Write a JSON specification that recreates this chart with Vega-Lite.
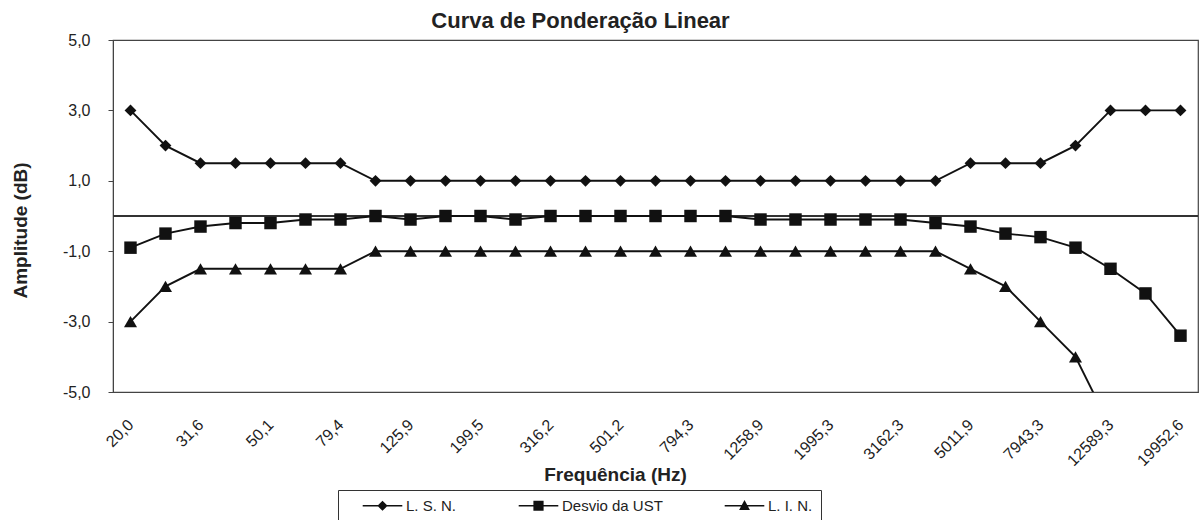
{
  "$schema": "https://vega.github.io/schema/vega-lite/v6.json",
  "width": 1085,
  "height": 352,
  "autosize": "none",
  "padding": {"left": 113, "top": 40, "right": 3, "bottom": 128},
  "background": "white",
  "config": {
    "font": "Liberation Sans",
    "view": {"stroke": "#444", "strokeWidth": 1.2},
    "axis": {"grid": false, "domainColor": "#444", "tickColor": "#444", "labelColor": "#222", "titleColor": "#222", "labelFont": "Liberation Sans", "titleFont": "Liberation Sans"}
  },
  "title": {"text": "Curva de Ponderação Linear", "fontSize": 22, "fontWeight": "bold", "font": "Liberation Sans", "color": "#222", "anchor": "middle", "frame": "group", "dx": -75, "offset": -1},
  "data": {"values": [
    {"f":"20,0","s":"L. S. N.","v":3},{"f":"25,1","s":"L. S. N.","v":2},{"f":"31,6","s":"L. S. N.","v":1.5},{"f":"39,8","s":"L. S. N.","v":1.5},{"f":"50,1","s":"L. S. N.","v":1.5},{"f":"63,1","s":"L. S. N.","v":1.5},{"f":"79,4","s":"L. S. N.","v":1.5},{"f":"100,0","s":"L. S. N.","v":1},{"f":"125,9","s":"L. S. N.","v":1},{"f":"158,5","s":"L. S. N.","v":1},{"f":"199,5","s":"L. S. N.","v":1},{"f":"251,2","s":"L. S. N.","v":1},{"f":"316,2","s":"L. S. N.","v":1},{"f":"398,1","s":"L. S. N.","v":1},{"f":"501,2","s":"L. S. N.","v":1},{"f":"631,0","s":"L. S. N.","v":1},{"f":"794,3","s":"L. S. N.","v":1},{"f":"1000,0","s":"L. S. N.","v":1},{"f":"1258,9","s":"L. S. N.","v":1},{"f":"1584,9","s":"L. S. N.","v":1},{"f":"1995,3","s":"L. S. N.","v":1},{"f":"2511,9","s":"L. S. N.","v":1},{"f":"3162,3","s":"L. S. N.","v":1},{"f":"3981,1","s":"L. S. N.","v":1},{"f":"5011,9","s":"L. S. N.","v":1.5},{"f":"6309,6","s":"L. S. N.","v":1.5},{"f":"7943,3","s":"L. S. N.","v":1.5},{"f":"10000,0","s":"L. S. N.","v":2},{"f":"12589,3","s":"L. S. N.","v":3},{"f":"15848,9","s":"L. S. N.","v":3},{"f":"19952,6","s":"L. S. N.","v":3},
    {"f":"20,0","s":"Desvio da UST","v":-0.9},{"f":"25,1","s":"Desvio da UST","v":-0.5},{"f":"31,6","s":"Desvio da UST","v":-0.3},{"f":"39,8","s":"Desvio da UST","v":-0.2},{"f":"50,1","s":"Desvio da UST","v":-0.2},{"f":"63,1","s":"Desvio da UST","v":-0.1},{"f":"79,4","s":"Desvio da UST","v":-0.1},{"f":"100,0","s":"Desvio da UST","v":0},{"f":"125,9","s":"Desvio da UST","v":-0.1},{"f":"158,5","s":"Desvio da UST","v":0},{"f":"199,5","s":"Desvio da UST","v":0},{"f":"251,2","s":"Desvio da UST","v":-0.1},{"f":"316,2","s":"Desvio da UST","v":0},{"f":"398,1","s":"Desvio da UST","v":0},{"f":"501,2","s":"Desvio da UST","v":0},{"f":"631,0","s":"Desvio da UST","v":0},{"f":"794,3","s":"Desvio da UST","v":0},{"f":"1000,0","s":"Desvio da UST","v":0},{"f":"1258,9","s":"Desvio da UST","v":-0.1},{"f":"1584,9","s":"Desvio da UST","v":-0.1},{"f":"1995,3","s":"Desvio da UST","v":-0.1},{"f":"2511,9","s":"Desvio da UST","v":-0.1},{"f":"3162,3","s":"Desvio da UST","v":-0.1},{"f":"3981,1","s":"Desvio da UST","v":-0.2},{"f":"5011,9","s":"Desvio da UST","v":-0.3},{"f":"6309,6","s":"Desvio da UST","v":-0.5},{"f":"7943,3","s":"Desvio da UST","v":-0.6},{"f":"10000,0","s":"Desvio da UST","v":-0.9},{"f":"12589,3","s":"Desvio da UST","v":-1.5},{"f":"15848,9","s":"Desvio da UST","v":-2.2},{"f":"19952,6","s":"Desvio da UST","v":-3.4},
    {"f":"20,0","s":"L. I. N.","v":-3},{"f":"25,1","s":"L. I. N.","v":-2},{"f":"31,6","s":"L. I. N.","v":-1.5},{"f":"39,8","s":"L. I. N.","v":-1.5},{"f":"50,1","s":"L. I. N.","v":-1.5},{"f":"63,1","s":"L. I. N.","v":-1.5},{"f":"79,4","s":"L. I. N.","v":-1.5},{"f":"100,0","s":"L. I. N.","v":-1},{"f":"125,9","s":"L. I. N.","v":-1},{"f":"158,5","s":"L. I. N.","v":-1},{"f":"199,5","s":"L. I. N.","v":-1},{"f":"251,2","s":"L. I. N.","v":-1},{"f":"316,2","s":"L. I. N.","v":-1},{"f":"398,1","s":"L. I. N.","v":-1},{"f":"501,2","s":"L. I. N.","v":-1},{"f":"631,0","s":"L. I. N.","v":-1},{"f":"794,3","s":"L. I. N.","v":-1},{"f":"1000,0","s":"L. I. N.","v":-1},{"f":"1258,9","s":"L. I. N.","v":-1},{"f":"1584,9","s":"L. I. N.","v":-1},{"f":"1995,3","s":"L. I. N.","v":-1},{"f":"2511,9","s":"L. I. N.","v":-1},{"f":"3162,3","s":"L. I. N.","v":-1},{"f":"3981,1","s":"L. I. N.","v":-1},{"f":"5011,9","s":"L. I. N.","v":-1.5},{"f":"6309,6","s":"L. I. N.","v":-2},{"f":"7943,3","s":"L. I. N.","v":-3},{"f":"10000,0","s":"L. I. N.","v":-4},{"f":"12589,3","s":"L. I. N.","v":-6}
  ]},
  "layer": [
    {
      "mark": {"type": "rule", "color": "#333", "strokeWidth": 1},
      "encoding": {"y": {"datum": 0, "type": "quantitative"}}
    },
    {
      "mark": {"type": "line", "color": "#111", "strokeWidth": 1.9, "clip": true},
      "encoding": {
        "x": {"field": "f", "type": "ordinal", "sort": null, "scale": {"type": "point", "padding": 0.5},
          "axis": {"title": "Frequência (Hz)", "titleFontSize": 19, "titleFontWeight": "bold", "titleX": 502, "titleY": 82, "titleBaseline": "middle", "titleAnchor": null,
            "values": ["20,0","31,6","50,1","79,4","125,9","199,5","316,2","501,2","794,3","1258,9","1995,3","3162,3","5011,9","7943,3","12589,3","19952,6"],
            "labelAngle": -45, "labelAlign": "right", "labelBaseline": "middle", "labelPadding": 30, "labelFontSize": 16, "ticks": false, "domain": true}},
        "y": {"field": "v", "type": "quantitative", "scale": {"domain": [-5, 5], "nice": false, "zero": false},
          "axis": {"title": "Amplitude (dB)", "titleFontSize": 19, "titleFontWeight": "bold", "titleX": -93, "titleY": 190, "titleAngle": 270, "titleBaseline": "middle", "titleAlign": "center",
            "values": [-5, -3, -1, 1, 3, 5], "labelExpr": "(datum.value < 0 ? '-' : '') + replace(format(abs(datum.value), '.1f'), '.', ',')",
            "labelFontSize": 16, "labelPadding": 18, "tickSize": 5, "ticks": true}},
        "detail": {"field": "s"}
      }
    },
    {
      "mark": {"type": "point", "filled": true, "color": "#111", "opacity": 1, "clip": true},
      "encoding": {
        "x": {"field": "f", "type": "ordinal", "sort": null},
        "y": {"field": "v", "type": "quantitative"},
        "shape": {"field": "s", "type": "nominal", "scale": {"domain": ["L. S. N.", "Desvio da UST", "L. I. N."], "range": ["diamond", "square", "triangle-up"]}, "legend": null},
        "size": {"field": "s", "type": "nominal", "scale": {"domain": ["L. S. N.", "Desvio da UST", "L. I. N."], "range": [140, 170, 140]}, "legend": null}
      }
    },
    {
      "mark": {"type": "point", "filled": true, "color": "#111", "opacity": 0},
      "encoding": {
        "x": {"field": "f", "type": "ordinal", "sort": null},
        "y": {"field": "v", "type": "quantitative"},
        "shape": {"field": "s", "type": "nominal",
          "scale": {"domain": ["L. S. N.", "Desvio da UST", "L. I. N."], "range": ["M-3.3,-0.13L3.3,-0.13L3.3,0.13L-3.3,0.13ZM0,-0.85L0.85,0L0,0.85L-0.85,0Z", "M-3.3,-0.13L3.3,-0.13L3.3,0.13L-3.3,0.13ZM-0.85,-0.85L0.85,-0.85L0.85,0.85L-0.85,0.85Z", "M-3.3,-0.13L3.3,-0.13L3.3,0.13L-3.3,0.13ZM0,-0.95L0.9,0.7L-0.9,0.7Z"]},
          "legend": {"orient": "none", "legendX": 225, "legendY": 450, "direction": "horizontal", "columns": 3, "title": null,
            "labelFontSize": 15, "labelFont": "Liberation Sans", "labelColor": "#222", "labelOffset": 16,
            "symbolSize": 144, "symbolOffset": 29, "symbolOpacity": 1, "symbolFillColor": "#111", "symbolStrokeColor": "#111", "symbolStrokeWidth": 0,
            "strokeColor": "#333", "fillColor": "white", "padding": 8, "columnPadding": 45}}
      }
    }
  ],
  "resolve": {"scale": {"shape": "independent", "size": "independent"}, "legend": {"shape": "independent"}}
}
